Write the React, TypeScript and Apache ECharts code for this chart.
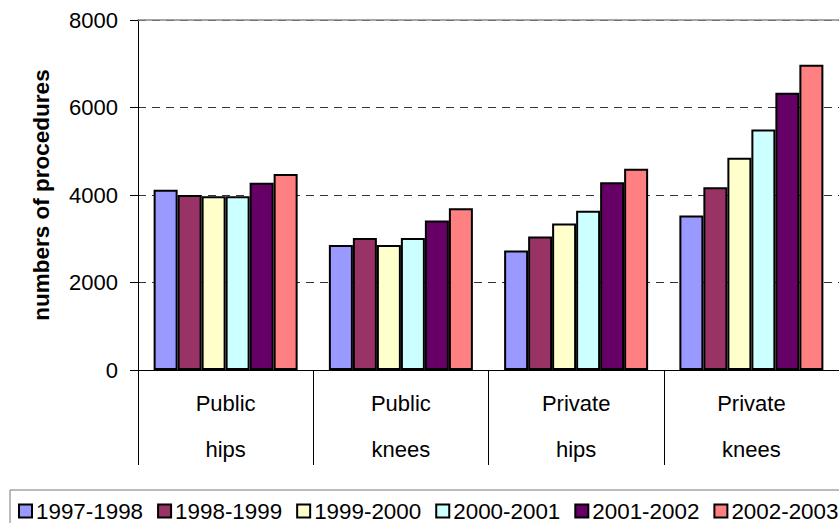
import React, { useEffect, useRef } from "react";
import * as echarts from "echarts";

const categories = ["Public\nhips", "Public\nknees", "Private\nhips", "Private\nknees"];
const seriesNames = ["1997-1998", "1998-1999", "1999-2000", "2000-2001", "2001-2002", "2002-2003"];
const v1997 = [4120, 2860, 2730, 3530];
const v1998 = [4000, 3020, 3050, 4180];
const v1999 = [3970, 2860, 3350, 4850];
const v2000 = [3970, 3020, 3640, 5500];
const v2001 = [4280, 3420, 4290, 6340];
const v2002 = [4480, 3700, 4600, 6980];
const seriesValues = [v1997, v1998, v1999, v2000, v2001, v2002];
const colors = ["#9999FF", "#993366", "#FFFFCC", "#CCFFFF", "#660066", "#FF8080"];
const yTicks = { min: 0, max: 8000, interval: 2000 };

const FONT = "Arial, 'Liberation Sans', sans-serif";

export default function App() {
  const ref = useRef<HTMLDivElement>(null);
  useEffect(() => {
    if (!ref.current) return;
    const chart = echarts.init(ref.current, null, { renderer: "svg" });
    chart.setOption({
      animation: false,
      backgroundColor: "#fff",
      textStyle: { fontFamily: FONT },
      grid: { left: 138, top: 20, width: 707, height: 350, containLabel: false },
      legend: {
        left: 10,
        top: 490,
        width: 1200,
        orient: "horizontal",
        padding: [10, 10, 30, 8],
        borderColor: "#777",
        borderWidth: 1,
        itemWidth: 13,
        itemHeight: 13,
        itemGap: 14,
        icon: "rect",
        itemStyle: { borderColor: "#000", borderWidth: 2 },
        textStyle: { fontSize: 22.4, color: "#000", fontFamily: FONT, padding: [0, 0, 0, -1] },
        data: seriesNames,
      },
      xAxis: [
        {
          type: "category",
          data: categories,
          position: "bottom",
          axisLine: { show: true, lineStyle: { color: "#000", width: 1 } },
          axisTick: { show: true, length: 95, lineStyle: { color: "#000", width: 1 } },
          axisLabel: {
            fontSize: 22,
            color: "#000",
            fontFamily: FONT,
            lineHeight: 46,
            margin: 10,
          },
        },
        {
          type: "category",
          data: categories,
          position: "top",
          axisLine: { show: true, lineStyle: { color: "#888", width: 1.5 } },
          axisTick: { show: false },
          axisLabel: { show: false },
        },
      ],
      yAxis: {
        type: "value",
        min: yTicks.min,
        max: yTicks.max,
        interval: yTicks.interval,
        name: "numbers of procedures",
        nameLocation: "middle",
        nameRotate: 90,
        nameGap: 85,
        nameTextStyle: { fontSize: 22.5, fontWeight: "bold", color: "#000", fontFamily: FONT },
        axisLine: { show: true, lineStyle: { color: "#000", width: 1 } },
        axisTick: { show: true, inside: false, length: 8, lineStyle: { color: "#000" } },
        axisLabel: {
          fontSize: 22,
          color: "#000",
          margin: 20,
          fontFamily: FONT,
          formatter: (v: number) => String(v),
        },
        splitLine: { show: true, lineStyle: { color: "#333", type: [8, 6], width: 1 } },
      },
      series: seriesNames.map((name, i) => ({
        name,
        type: "bar",
        data: seriesValues[i],
        barWidth: 24,
        barGap: "0%",
        itemStyle: { color: colors[i], borderColor: "#000", borderWidth: 2 },
      })),
    });
    return () => chart.dispose();
  }, []);
  return (
    <div
      ref={ref}
      style={{ position: "fixed", left: 0, top: 0, width: 839, height: 523 }}
    />
  );
}
